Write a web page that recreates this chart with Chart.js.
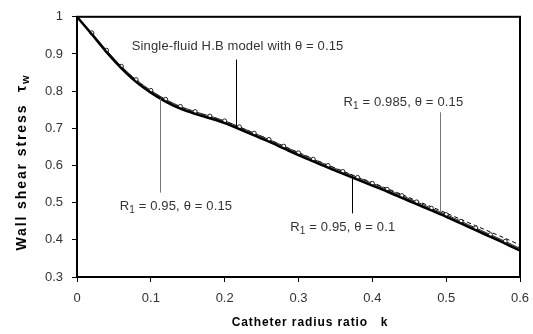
<!DOCTYPE html>
<html>
<head>
<meta charset="utf-8">
<script src="https://cdn.jsdelivr.net/npm/chart.js@4/dist/chart.umd.min.js"></script>
<style>
  html, body { margin: 0; padding: 0; background: #fff; }
  #chart { display: block; }
</style>
</head>
<body>
<canvas id="chart" width="533" height="334"></canvas>
<script>
// catheter radius ratio k
var kVals = [0, 0.02, 0.04, 0.06, 0.08, 0.10, 0.12, 0.14, 0.16, 0.18, 0.20,
  0.22, 0.24, 0.26, 0.28, 0.30, 0.32, 0.34, 0.36, 0.38, 0.40,
  0.42, 0.44, 0.46, 0.48, 0.50, 0.52, 0.54, 0.56, 0.58, 0.60];
// single-fluid H.B model, theta = 0.15
var tauHB = [1.000, 0.953, 0.905, 0.862, 0.825, 0.796, 0.772, 0.753, 0.739, 0.727, 0.714,
  0.698, 0.681, 0.664, 0.646, 0.628, 0.611, 0.594, 0.578, 0.562, 0.546,
  0.530, 0.513, 0.496, 0.479, 0.462, 0.444, 0.426, 0.408, 0.390, 0.371];
// R1 = 0.95, theta = 0.15
var tauR95t15 = [1.000, 0.957, 0.910, 0.867, 0.831, 0.802, 0.778, 0.759, 0.745, 0.733, 0.720,
  0.704, 0.687, 0.670, 0.652, 0.634, 0.617, 0.600, 0.584, 0.568, 0.552,
  0.536, 0.519, 0.502, 0.485, 0.468, 0.450, 0.432, 0.414, 0.396, 0.377];
// R1 = 0.95, theta = 0.1
var tauR95t10 = [1.000, 0.955, 0.908, 0.865, 0.828, 0.799, 0.775, 0.756, 0.742, 0.730, 0.717,
  0.701, 0.684, 0.667, 0.649, 0.631, 0.614, 0.597, 0.581, 0.565, 0.549,
  0.533, 0.516, 0.499, 0.482, 0.465, 0.447, 0.429, 0.411, 0.393, 0.374];
// R1 = 0.985, theta = 0.15
var tauR985 = [1.000, 0.955, 0.908, 0.866, 0.829, 0.800, 0.776, 0.757, 0.743, 0.731, 0.719,
  0.703, 0.687, 0.670, 0.652, 0.635, 0.618, 0.601, 0.585, 0.569, 0.554,
  0.538, 0.522, 0.505, 0.489, 0.472, 0.455, 0.438, 0.421, 0.404, 0.386];

var xTicks = [0, 0.1, 0.2, 0.3, 0.4, 0.5, 0.6];
var yTicks = [0.3, 0.4, 0.5, 0.6, 0.7, 0.8, 0.9, 1];

// callouts: text centre (k, tau) and pointer line (k, from, to)
var notes = [
  { parts: [['Single-fluid H.B model with \u03b8 = 0.15', 0]], tx: 0.2175, ty: 0.920, lx: 0.216, l1: 0.885, l2: 0.700, col: '#000' },
  { parts: [['R', 0], ['1', 1], [' = 0.985, \u03b8 = 0.15', 0]], tx: 0.442, ty: 0.769, lx: 0.492, l1: 0.743, l2: 0.474, col: '#777' },
  { parts: [['R', 0], ['1', 1], [' = 0.95, \u03b8 = 0.15', 0]], tx: 0.134, ty: 0.491, lx: 0.112, l1: 0.780, l2: 0.527, col: '#777' },
  { parts: [['R', 0], ['1', 1], [' = 0.95, \u03b8 = 0.1', 0]], tx: 0.36, ty: 0.434, lx: 0.373, l1: 0.568, l2: 0.471, col: '#000' }
];

function pts(ys) {
  return kVals.map(function (k, i) { return { x: k, y: ys[i] }; });
}

function drawParts(ctx, parts, cx, cy, size, weight) {
  var w = 0;
  parts.forEach(function (p) {
    ctx.font = weight + ' ' + (p[1] ? size - 3 : size) + 'px "Liberation Sans", Arial';
    w += ctx.measureText(p[0]).width;
  });
  var x = cx - w / 2;
  ctx.textAlign = 'left';
  ctx.textBaseline = 'middle';
  parts.forEach(function (p) {
    ctx.font = weight + ' ' + (p[1] ? size - 3 : size) + 'px "Liberation Sans", Arial';
    ctx.fillText(p[0], x, cy + (p[1] ? 4 : 0));
    x += ctx.measureText(p[0]).width;
  });
}

var notesPlugin = {
  id: 'notes',
  afterDatasetsDraw: function (chart) {
    var ctx = chart.ctx, xs = chart.scales.x, ys = chart.scales.y;
    ctx.save();
    notes.forEach(function (n) {
      var px = Math.round(xs.getPixelForValue(n.lx)) + 0.5;
      ctx.strokeStyle = n.col;
      ctx.lineWidth = 1;
      ctx.beginPath();
      ctx.moveTo(px, ys.getPixelForValue(n.l1));
      ctx.lineTo(px, ys.getPixelForValue(n.l2));
      ctx.stroke();
      ctx.fillStyle = '#333';
      ctx.letterSpacing = '0.15px';
      drawParts(ctx, n.parts, xs.getPixelForValue(n.tx), ys.getPixelForValue(n.ty), 13, 'normal');
    });
    ctx.restore();
  }
};

var titlesPlugin = {
  id: 'titles',
  afterDraw: function (chart) {
    var ctx = chart.ctx;
    ctx.save();
    ctx.fillStyle = '#000';
    ctx.letterSpacing = '0.9px';
    drawParts(ctx, [['Catheter radius ratio   k', 0]], 310, 323, 12, 'bold');
    ctx.translate(22, 162);
    ctx.rotate(-Math.PI / 2);
    ctx.letterSpacing = '1.9px';
    drawParts(ctx, [['Wall shear stress  \u03c4', 0], ['w', 1]], 0, 0, 14, 'bold');
    ctx.restore();
  }
};

var tickFont = { family: '"Liberation Sans", Arial', size: 13 };

var chart = new Chart('chart', {
  type: 'line',
  data: {
    datasets: [
      { label: 'Single-fluid H.B', data: pts(tauHB), borderColor: '#000', borderWidth: 2.5, pointRadius: 0, tension: 0.3, order: 0 },
      { label: 'R1 = 0.95, theta = 0.15', data: pts(tauR95t15), borderColor: '#222', borderWidth: 1, pointRadius: 2,
        pointStyle: 'circle', pointBackgroundColor: '#fff', pointBorderColor: '#222', pointBorderWidth: 1, tension: 0.3, order: 1 },
      { label: 'R1 = 0.95, theta = 0.1', data: pts(tauR95t10), borderColor: '#444', borderWidth: 1, pointRadius: 2.5,
        pointStyle: 'dash', pointBorderColor: '#222', pointBorderWidth: 1.2, tension: 0.3, order: 2 },
      { label: 'R1 = 0.985, theta = 0.15', data: pts(tauR985), borderColor: '#000', borderWidth: 1, borderDash: [4, 3],
        pointRadius: 0, tension: 0.3, order: 3 }
    ]
  },
  options: {
    responsive: false,
    animation: false,
    layout: { padding: { left: 0, right: 13, top: 16, bottom: 0 } },
    plugins: { legend: { display: false }, tooltip: { enabled: false } },
    scales: {
      x: {
        type: 'linear', min: 0, max: 0.6,
        afterFit: function (s) { s.height = 57; s.paddingRight = 0; },
        afterBuildTicks: function (s) { s.ticks = xTicks.map(function (v) { return { value: v }; }); },
        border: { color: '#000', width: 2 },
        grid: { drawOnChartArea: false, tickLength: 5, color: '#000' },
        ticks: { color: '#333', padding: 9, maxRotation: 0, font: tickFont,
          callback: function (v) { return String(Math.round(v * 10) / 10); } }
      },
      y: {
        min: 0.3, max: 1,
        afterFit: function (s) { s.width = 77; },
        afterBuildTicks: function (s) { s.ticks = yTicks.map(function (v) { return { value: v }; }); },
        border: { color: '#000', width: 2 },
        grid: { drawOnChartArea: false, tickLength: 5, color: '#000' },
        ticks: { color: '#333', padding: 9, font: tickFont,
          callback: function (v) { return String(Math.round(v * 10) / 10); } }
      }
    }
  },
  plugins: [notesPlugin, titlesPlugin, {
    id: 'frame',
    afterDraw: function (chart) {
      var a = chart.chartArea, ctx = chart.ctx;
      ctx.save();
      ctx.strokeStyle = '#000';
      ctx.lineWidth = 2;
      ctx.strokeRect(a.left, a.top, a.right - a.left, a.bottom - a.top);
      ctx.restore();
    }
  }]
});
</script>
</body>
</html>
